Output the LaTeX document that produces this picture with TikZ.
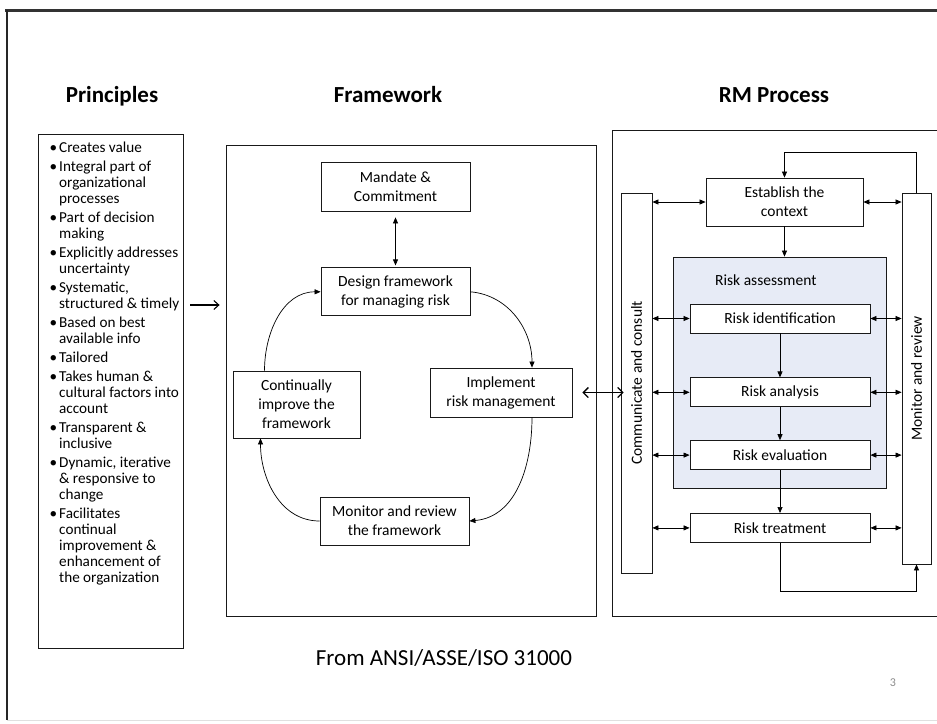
\documentclass[tikz,border=0pt]{standalone}
\usepackage{fontspec}
\setmainfont{Carlito}
\usetikzlibrary{arrows.meta,positioning}
\definecolor{assessblue}{RGB}{231,235,246}
\newcommand{\pitem}[1]{\hangindent=9.5pt\hangafter=1\noindent\makebox[9.5pt][l]{\textbullet}#1\par}

\begin{document}
\begin{tikzpicture}[x=1pt, y=1pt, font=\fontsize{15.5}{19}\selectfont, sharp corners,
     box/.style={draw=black!90, line width=0.8pt, align=center, inner sep=0pt, fill=white},
     rbox/.style={box, minimum width=180pt, minimum height=29pt},
     frm/.style={draw=black!90, line width=0.8pt, inner sep=0pt},
     ttl/.style={font=\fontsize{23}{26}\selectfont\bfseries, inner sep=0pt, anchor=base},
     plist/.style={anchor=north west, text width=132pt, inner sep=0pt, align=left,
                   font=\fontsize{15.2}{16}\selectfont},
     arr/.style={-{Triangle[length=6pt,width=5pt]}, line width=0.7pt},
     darr/.style={{Triangle[length=6pt,width=5pt]}-{Triangle[length=6pt,width=5pt]}, line width=0.7pt},
     barb/.style={-{Straight Barb[length=5pt,width=9pt]}, line width=1.1pt},
     dbarb/.style={{Straight Barb[length=5pt,width=10pt]}-{Straight Barb[length=5pt,width=10pt]}, line width=1.3pt}]
   \useasboundingbox[fill=white] (0,0) rectangle (937,-723);
   \draw[line width=3pt, black!80] (5,-10) -- (937,-10);
   \draw[line width=2.5pt, black!85] (7,-10) -- (7,-720);
   \draw[line width=1pt, black!12] (7,-720) -- (937,-720);

   \node[ttl] (tprin) at (112,-102) {Principles};
   \node[ttl] (tfw)   at (388,-102) {Framework};
   \node[ttl] (trm)   at (774,-102) {RM Process};

   \node[frm, minimum width=145pt, minimum height=514pt] (prin) at (110.5,-391) {};
   \node[plist] (plist) at (49.5,-141.5) {\setlength{\parskip}{3pt}\spaceskip=3.4pt\relax\rightskip=0pt plus 1fil\relax
     \pitem{Creates value}
     \pitem{Integral part of\newline organizational\newline processes}
     \pitem{Part of decision\newline making}
     \pitem{Explicitly addresses\newline uncertainty}
     \pitem{Systematic,\newline structured \& timely}
     \pitem{Based on best\newline available info}
     \pitem{Tailored}
     \pitem{Takes human \&\newline cultural factors into\newline account}
     \pitem{Transparent \&\newline inclusive}
     \pitem{Dynamic, iterative\newline \& responsive to\newline change}
     \pitem{Facilitates\newline continual\newline improvement \&\newline enhancement of\newline the organization}};

   \node[frm, minimum width=370pt, minimum height=471pt] (fw) at (411,-380.5) {};
   \node[box, minimum width=149pt, minimum height=49pt] (mandate) at (395.5,-186.5) {Mandate \&\\Commitment};
   \node[box, minimum width=149pt, minimum height=48pt, below=56pt of mandate] (design) {Design framework\\for managing risk};
   \node[box, minimum width=127pt, minimum height=67pt] (improve) at (296.5,-404.5) {Continually\\improve the\\framework};
   \node[box, minimum width=142pt, minimum height=49pt] (implement) at (501,-392.5) {Implement\\risk management};
   \node[box, minimum width=149pt, minimum height=48pt] (monfw) at (394.5,-521) {Monitor and review\\the framework};

   \coordinate (pa) at (190,-305);
   \draw[barb] (pa) -- ([xshift=-6pt]fw.west |- pa);
   \draw[darr, shorten <=6pt, shorten >=2pt] (mandate) -- (design);
   \draw[arr] (design.east) to[out=-5,in=90] ([xshift=31pt]implement.north);
   \draw[arr] ([xshift=31pt]implement.south) to[out=-90,in=5] (monfw.east);
   \draw[arr] (monfw.west) to[out=180,in=-90] ([xshift=-36pt]improve.south);
   \draw[arr] ([xshift=-32pt]improve.north) to[out=90,in=180] (design.west);

   \draw[frm] (937,-130) -| (612,-616) -- (937,-616);
   \node[box, minimum width=31pt, minimum height=380pt] (comm) at (636.5,-383) {\rotatebox{90}{Communicate and consult}};
   \node[box, minimum width=29pt, minimum height=371pt] (monitor) at (916.5,-378.5) {\rotatebox{90}{Monitor and review}};
   \node[box, minimum width=157pt, minimum height=48pt] (establish) at (784.5,-202) {Establish the\\context};
   \node[box, fill=assessblue, minimum width=213pt, minimum height=231pt] (assess) at (779.5,-372.5) {};
   \node[anchor=base west, inner sep=0pt] (asslbl) at (715,-285) {Risk assessment};
   \node[rbox] (ident) at (780,-318.5) {Risk identification};
   \node[rbox, below=44pt of ident] (analysis) {Risk analysis};
   \node[rbox, below=33pt of analysis] (evaluation) {Risk evaluation};
   \node[rbox, below=43pt of evaluation] (treatment) {Risk treatment};

   \draw[dbarb] ([xshift=10pt]implement.east) -- ([xshift=3pt]comm.west |- implement);
   \draw[arr] (monitor.north) -- ++(0,40) -| (establish.north);
   \draw[arr] (establish.south) -- (establish.south |- assess.north);
   \draw[arr] (ident) -- (analysis);
   \draw[arr] (analysis) -- (evaluation);
   \draw[arr] (evaluation) -- (treatment);
   \draw[arr] (treatment.south) -- ++(0,-49) -| (monitor.south);
   \foreach \b in {establish,ident,analysis,evaluation,treatment}{
     \draw[darr] (comm.east |- \b) -- (\b.west);
     \draw[darr] (\b.east) -- (\b -| monitor.west);
   }

   \node[font=\fontsize{23}{26}\selectfont, anchor=base, inner sep=0pt] (src) at (444,-665.5) {From ANSI/ASSE/ISO 31000};
   \node[font=\fontsize{12}{14}\selectfont, text=black!45, inner sep=0pt] (pgno) at (893,-683) {3};
\end{tikzpicture}
\end{document}
